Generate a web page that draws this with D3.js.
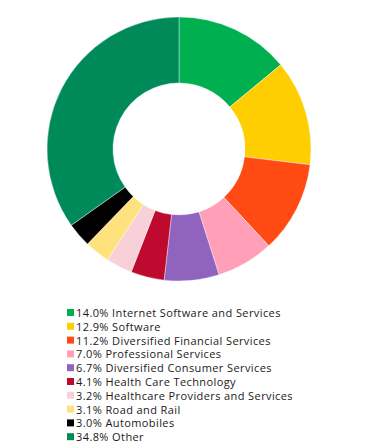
<!DOCTYPE html>
<html>
<head>
<meta charset="utf-8">
<script src="https://cdn.jsdelivr.net/npm/d3@7"></script>
<style>
  body { margin: 0; background: #fff; }
  svg { display: block; }
</style>
</head>
<body>
<svg width="379" height="447"></svg>
<script>
const categories = [
  "Internet Software and Services",
  "Software",
  "Diversified Financial Services",
  "Professional Services",
  "Diversified Consumer Services",
  "Health Care Technology",
  "Healthcare Providers and Services",
  "Road and Rail",
  "Automobiles",
  "Other"
];
const values = [14.0, 12.9, 11.2, 7.0, 6.7, 4.1, 3.2, 3.1, 3.0, 34.8];
const colors = [
  "#00AF50", "#FFCE00", "#FF4A14", "#FF9FB8", "#9063BE",
  "#BE0A2E", "#F8D0D7", "#FFE27E", "#000000", "#008A5A"
];

const svg = d3.select("svg");

// Donut
const cx = 179, cy = 149, outerR = 132, innerR = 66;

const pie = d3.pie().sort(null).value(d => d.value);
const arc = d3.arc().innerRadius(innerR).outerRadius(outerR);

const data = categories.map((c, i) => ({ name: c, value: values[i], color: colors[i] }));

svg.append("g")
    .attr("transform", "translate(" + cx + "," + cy + ")")
  .selectAll("path")
  .data(pie(data))
  .enter().append("path")
    .attr("d", arc)
    .attr("fill", d => d.data.color)
    .attr("stroke", "#fff")
    .attr("stroke-width", 0.4);

// Legend
const y = d3.scaleBand()
    .domain(categories)
    .range([306, 306 + 13.8 * categories.length]);

const legend = svg.append("g")
  .selectAll("g")
  .data(data)
  .enter().append("g")
    .attr("transform", d => "translate(67," + y(d.name) + ")");

legend.append("rect")
    .attr("x", 0)
    .attr("y", 3)
    .attr("width", 7)
    .attr("height", 7)
    .attr("fill", d => d.color);

legend.append("text")
    .attr("x", 9)
    .attr("y", 11)
    .style("font-family", "'Open Sans', sans-serif")
    .style("font-size", "11px")
    .style("letter-spacing", "0.4px")
    .style("fill", "#1a1a1a")
    .text(d => d.value.toFixed(1) + "% " + d.name);
</script>
</body>
</html>
